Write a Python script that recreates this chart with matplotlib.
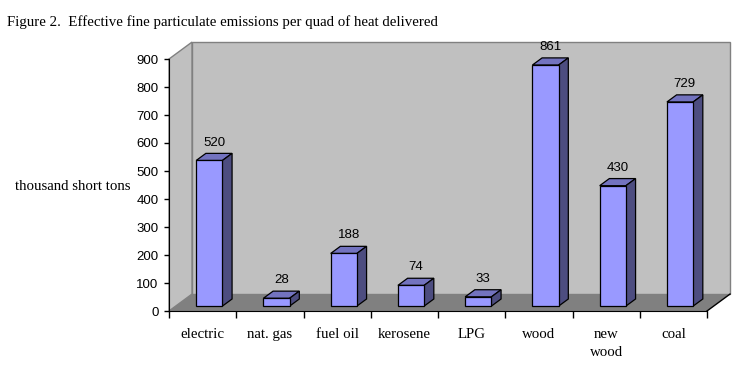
import matplotlib.pyplot as plt
from matplotlib.patches import Polygon, Rectangle

categories = ["electric", "nat. gas", "fuel oil", "kerosene", "LPG", "wood", "new\nwood", "coal"]
values = [520, 28, 188, 74, 33, 861, 430, 729]
yticks = [0, 100, 200, 300, 400, 500, 600, 700, 800, 900]

SERIF = "Liberation Serif"
SANS = "Liberation Sans"
W, H = 737, 381
# pseudo-3D depth, in data units (full depth of the plot box)
DX = 23 / 67.25
DY = 17 / (253 / 900)
D0, D1 = 0.29, 0.71          # bar depth range
B0, B1 = 0.305, 0.695        # bar width range within a category

fig = plt.figure(figsize=(W / 100, H / 100), dpi=100)
ax = fig.add_axes([169 / W, (H - 311) / H, (707 - 169) / W, (311 - 59) / H])
ax.set_xlim(0, 8)
ax.set_ylim(0, 900)
ax.patch.set_visible(False)

n = len(categories)
top = yticks[-1]

# walls and floor
ax.add_patch(Polygon([(DX, DY), (n + DX, DY), (n + DX, top + DY), (DX, top + DY)],
                     closed=True, facecolor="#C0C0C0", edgecolor="#808080", lw=1, clip_on=False, zorder=0))
ax.add_patch(Polygon([(0, 0), (DX, DY), (DX, top + DY), (0, top)],
                     closed=True, facecolor="#C0C0C0", edgecolor="#808080", lw=1, clip_on=False, zorder=0))
ax.add_patch(Polygon([(0, 0), (n, 0), (n + DX, DY), (DX, DY)],
                     closed=True, facecolor="#808080", edgecolor="none", clip_on=False, zorder=1))
ax.plot([n, n + DX], [0, DY], color="black", lw=1, clip_on=False, zorder=1)

# bars
for i, v in enumerate(values):
    x0, x1 = i + B0, i + B1
    ax.add_patch(Polygon([(x0 + D0 * DX, v + D0 * DY), (x1 + D0 * DX, v + D0 * DY),
                          (x1 + D1 * DX, v + D1 * DY), (x0 + D1 * DX, v + D1 * DY)],
                         closed=True, facecolor="#7373BF", edgecolor="black", lw=0.9, clip_on=False, zorder=3))
    ax.add_patch(Polygon([(x1 + D0 * DX, D0 * DY), (x1 + D1 * DX, D1 * DY),
                          (x1 + D1 * DX, v + D1 * DY), (x1 + D0 * DX, v + D0 * DY)],
                         closed=True, facecolor="#4D4D80", edgecolor="black", lw=0.9, clip_on=False, zorder=3))
    ax.add_patch(Rectangle((x0 + D0 * DX, D0 * DY), x1 - x0, v,
                           facecolor="#9999FF", edgecolor="black", lw=0.9, clip_on=False, zorder=4))
    ax.annotate(str(v), ((x0 + x1) / 2 + (D0 + D1) / 2 * DX, v + D1 * DY), xytext=(0, 3.5),
                textcoords="offset points", ha="center", va="bottom",
                family=SANS, fontsize=9.5, zorder=5, annotation_clip=False)

# axes
for s in ["top", "right"]:
    ax.spines[s].set_visible(False)
ax.spines["left"].set_zorder(6)
ax.spines["bottom"].set_zorder(6)
ax.set_yticks(yticks)
ax.set_yticklabels([str(t) for t in yticks], family=SANS, fontsize=9.5)
ax.tick_params(axis="y", direction="out", length=3.5, width=1, pad=4)

ax.set_xticks(range(n + 1))
ax.set_xticklabels([])
ax.tick_params(axis="x", which="major", direction="out", length=5, width=1)
ax.set_xticks([i + 0.5 for i in range(n)], minor=True)
ax.set_xticklabels(categories, minor=True, family=SERIF, fontsize=10.7, linespacing=1.5)
ax.tick_params(axis="x", which="minor", length=0, pad=12)

fig.text(7 / W, 1 - 22 / H, "Figure 2.  Effective fine particulate emissions per quad of heat delivered",
         family=SERIF, fontsize=10.7, ha="left", va="center")
fig.text(15 / W, 1 - 187 / H, "thousand short tons", family=SERIF, fontsize=10.7, ha="left", va="center")

fig.savefig("out.png", dpi=100)
